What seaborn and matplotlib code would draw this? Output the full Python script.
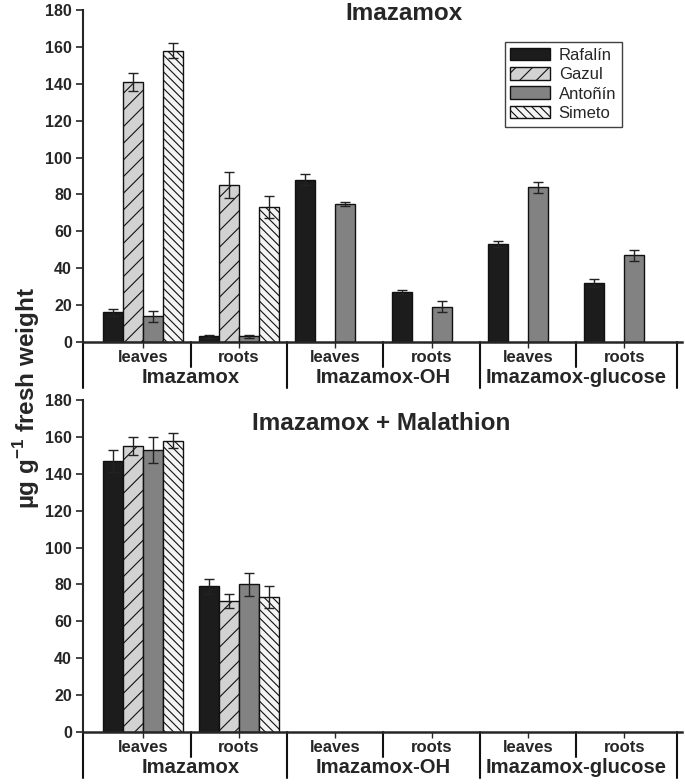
import matplotlib
matplotlib.use("Agg")
import matplotlib.pyplot as plt
import matplotlib.transforms as mtransforms
from matplotlib.patches import Patch
from matplotlib.container import BarContainer
import seaborn as sns
import pandas as pd
import numpy as np

nan = np.nan

# categories
compounds = ["Imazamox", "Imazamox-OH", "Imazamox-glucose"]
tissues = ["leaves", "roots"]
cultivars = ["Rafalín", "Gazul", "Antoñín", "Simeto"]
positions = [f"{c} {t}" for c in compounds for t in tissues]

# top panel: Imazamox alone (means and standard errors)
raf_top = [16, 3, 88, 27, 53, 32]
gaz_top = [141, 85, nan, nan, nan, nan]
ant_top = [14, 3, 75, 19, 84, 47]
sim_top = [158, 73, nan, nan, nan, nan]
raf_top_err = [2, 1, 3, 1, 1.5, 2]
gaz_top_err = [5, 7, 0, 0, 0, 0]
ant_top_err = [3, 1, 1, 3, 3, 3]
sim_top_err = [4, 6, 0, 0, 0, 0]

# bottom panel: Imazamox + Malathion
raf_bot = [147, 79, nan, nan, nan, nan]
gaz_bot = [155, 71, nan, nan, nan, nan]
ant_bot = [153, 80, nan, nan, nan, nan]
sim_bot = [158, 73, nan, nan, nan, nan]
raf_bot_err = [6, 4, 0, 0, 0, 0]
gaz_bot_err = [5, 4, 0, 0, 0, 0]
ant_bot_err = [7, 6, 0, 0, 0, 0]
sim_bot_err = [4, 6, 0, 0, 0, 0]

colors = ["#1c1c1c", "#d2d2d2", "#828282", "#f4f4f4"]
hatches = ["", "//", "", "\\\\\\\\"]

sns.set_style("white")
plt.rcParams["font.family"] = ["Liberation Sans", "DejaVu Sans"]
plt.rcParams["mathtext.fontset"] = "custom"
plt.rcParams["mathtext.bf"] = "Liberation Sans:bold"
plt.rcParams["mathtext.rm"] = "Liberation Sans"
plt.rcParams["hatch.linewidth"] = 0.8


def long_frame(series):
    rows = []
    for cv, vals in zip(cultivars, series):
        for pos, v in zip(positions, vals):
            rows.append({"pos": pos, "cultivar": cv, "value": v})
    return pd.DataFrame(rows)


def draw_panel(ax, series, errors, title, title_xy):
    df = long_frame(series)
    sns.barplot(data=df, x="pos", y="value", hue="cultivar", order=positions,
                hue_order=cultivars, palette=colors, saturation=1, width=0.83,
                gap=0, errorbar=None, edgecolor="#111111", linewidth=1,
                legend=False, ax=ax)
    bar_conts = [c for c in ax.containers if isinstance(c, BarContainer)]
    for ci, cont in enumerate(bar_conts):
        for bar in list(cont):
            h = bar.get_height()
            if not np.isfinite(h) or h <= 0:
                continue
            bar.set_hatch(hatches[ci])
            x = bar.get_x() + bar.get_width() / 2
            err = errors[ci][int(round(x))]
            ax.errorbar(x, h, yerr=err, color="#222222", elinewidth=1,
                        capsize=3.6, capthick=1)

    ax.set_ylim(0, 180)
    ax.set_xlim(-0.62, 5.6)
    ax.set_yticks(range(0, 181, 20))
    ax.tick_params(axis="y", length=5, width=1.2, labelsize=11.5, pad=3,
                   left=True, direction="out")
    for lab in ax.get_yticklabels():
        lab.set_fontweight("bold")
    ax.set_xticks(range(len(positions)))
    ax.tick_params(axis="x", length=4, width=1, bottom=True,
                   direction="out", labelbottom=False)
    ax.set_xlabel("")
    ax.set_ylabel("")
    sns.despine(ax=ax)
    ax.spines["left"].set_linewidth(1.5)
    ax.spines["bottom"].set_linewidth(1.8)

    trans = mtransforms.blended_transform_factory(ax.transData, ax.transAxes)
    # tissue and compound labels below the axis
    for i, pos in enumerate(positions):
        ax.text(i, -0.048, tissues[i % 2], transform=trans, ha="center",
                va="center", fontsize=12, fontweight="bold")
    for k, comp in enumerate(compounds):
        ax.text(2 * k + 0.5, -0.108, comp, transform=trans, ha="center",
                va="center", fontsize=14.6, fontweight="bold")
    # separators
    for xs in [0.5, 2.5, 4.5]:
        ax.plot([xs, xs], [0, -0.075], transform=trans, color="#111111",
                lw=1.5, clip_on=False)
    for xs in [-0.62, 1.5, 3.5, 5.55]:
        ax.plot([xs, xs], [0, -0.139], transform=trans, color="#111111",
                lw=1.5, clip_on=False)

    ax.text(title_xy[0], title_xy[1], title, transform=ax.transAxes,
            ha="center", va="center", fontsize=17.5, fontweight="bold")


fig = plt.figure(figsize=(6.85, 7.84), dpi=100)
ax_top = fig.add_axes([0.1212, 0.5638, 0.8744, 0.4234])
ax_bot = fig.add_axes([0.1212, 0.0663, 0.8744, 0.4235])

draw_panel(ax_top, [raf_top, gaz_top, ant_top, sim_top],
           [raf_top_err, gaz_top_err, ant_top_err, sim_top_err],
           "Imazamox", (0.536, 0.99))
draw_panel(ax_bot, [raf_bot, gaz_bot, ant_bot, sim_bot],
           [raf_bot_err, gaz_bot_err, ant_bot_err, sim_bot_err],
           "Imazamox + Malathion", (0.497, 0.929))

handles = [Patch(facecolor=c, edgecolor="#111111", hatch=h, linewidth=1,
                 label=cv) for c, h, cv in zip(colors, hatches, cultivars)]
leg = ax_top.legend(handles=handles, loc="upper right",
                    bbox_to_anchor=(0.9, 0.904), borderaxespad=0,
                    fontsize=12, frameon=True, fancybox=False,
                    handlelength=2.35, handleheight=0.8, labelspacing=0.25,
                    handletextpad=0.55, borderpad=0.35)
leg.get_frame().set_edgecolor("#111111")
leg.get_frame().set_linewidth(1)

fig.text(0.039, 1 - 398 / 784, r"µg g$^{\mathbf{-1}}$ fresh weight",
         rotation=90, ha="center", va="center", fontsize=17.5,
         fontweight="bold")

fig.savefig("out.png", dpi=100)
